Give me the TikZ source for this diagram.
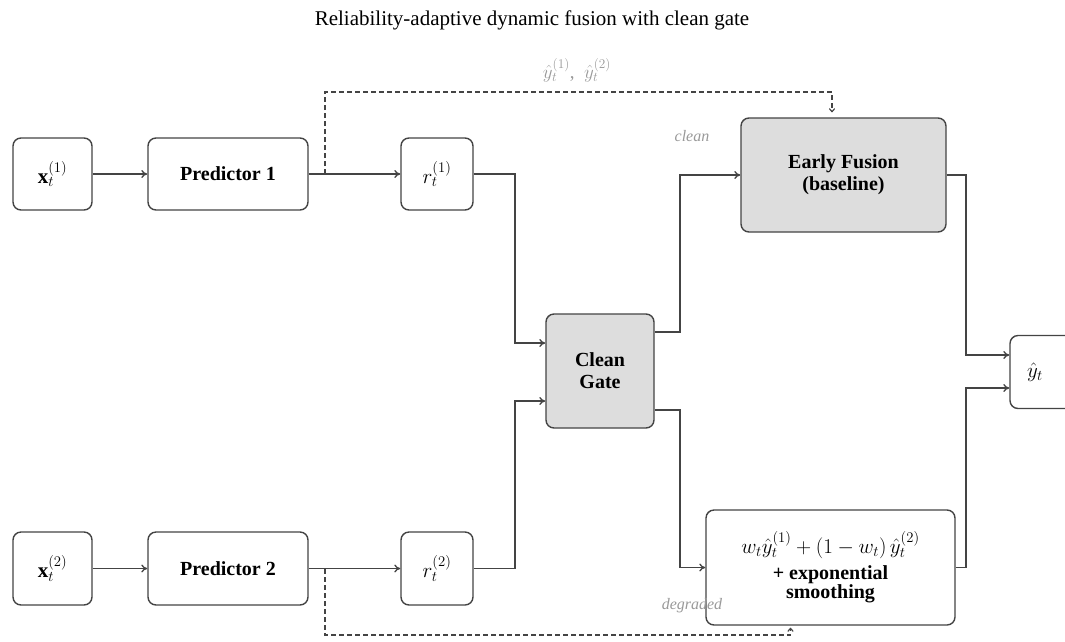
\RequirePackage{fix-cm}
\documentclass[tikz,border=0pt]{standalone}
\usepackage{fontspec}
\setmainfont{Liberation Serif}
\usetikzlibrary{arrows.meta}
\definecolor{edge}{HTML}{444444}
\definecolor{gatefill}{HTML}{DDDDDD}
\definecolor{lbl}{HTML}{999999}
\begin{document}
\begin{tikzpicture}[x=1pt,y=-1pt,
  box/.style={draw=edge, line width=1.4pt, rounded corners=8pt, fill=white, align=center, inner sep=2pt},
  gbox/.style={box, fill=gatefill},
  arr/.style={draw=edge, line width=1.3pt, -{To[length=6pt,width=8pt]}},
  dsh/.style={draw=edge, line width=1.2pt, dash pattern=on 5pt off 3pt, -{To[length=4pt,width=6pt]}},
  lab/.style={text=lbl, font=\fontsize{16}{18}\selectfont\itshape},
  mth/.style={font=\fontsize{21}{24}\selectfont},
  txt/.style={font=\fontsize{20}{23}\selectfont\bfseries}]
\useasboundingbox (0,0) rectangle (1065,641);
\clip (0,0) rectangle (1065,641);

\node[font=\fontsize{21}{24}\selectfont] (title) at (532,20) {Reliability-adaptive dynamic fusion with clean gate};

\node[box, mth, minimum width=79pt, minimum height=72pt] (x1) at (52.5,174) {$\mathbf{x}_t^{(1)}$};
\node[box, txt, minimum width=160pt, minimum height=72pt] (p1) at (228,174) {Predictor 1};
\node[box, mth, minimum width=72pt, minimum height=72pt] (r1) at (437,174) {$r_t^{(1)}$};

\node[box, mth, minimum width=79pt, minimum height=73pt] (x2) at (52.5,568.5) {$\mathbf{x}_t^{(2)}$};
\node[box, txt, minimum width=160pt, minimum height=73pt] (p2) at (228,568.5) {Predictor 2};
\node[box, mth, minimum width=72pt, minimum height=73pt] (r2) at (437,568.5) {$r_t^{(2)}$};

\node[gbox, txt, minimum width=108pt, minimum height=114pt] (gate) at (600,371) {Clean\\[-1pt]Gate};
\node[gbox, txt, minimum width=205pt, minimum height=114pt] (early) at (843.5,175) {Early Fusion\\[-1pt](baseline)};
\node[box, txt, minimum width=249pt, minimum height=115pt] (fus) at (830.5,567.5)
  {{\mdseries\fontsize{21}{24}\selectfont$w_t\hat{y}_t^{(1)}+(1-w_t)\,\hat{y}_t^{(2)}$}\\[3pt]+ exponential\\[-4pt]smoothing};
\node[box, mth, minimum width=70pt, minimum height=73pt] (yh) at (1045,372) {\hspace*{-20pt}$\hat{y}_t$};

\coordinate (s1) at (325,174);
\coordinate (s2) at (325,569);

\draw[arr] (x1.east) -- (p1.west);
\draw[arr] (p1.east) -- (r1.west);
\draw[arr] (x2.east) -- (p2.west);
\draw[arr] (p2.east) -- (r2.west);

\draw[dsh, shorten >=5pt] (s1) -- (325,92) -| ([xshift=-11.5pt]early.north);
\draw[dsh, shorten >=2pt] (s2) -- (325,635) -| ([xshift=-40pt]fus.south);

\draw[arr] (r1.east) -- (515,174) |- ([yshift=28pt]gate.west);
\draw[arr] (r2.east) -- (515,568.5) |- ([yshift=-30pt]gate.west);

\draw[arr] ([yshift=39pt]gate.east) -- (680,332) |- (early.west);
\draw[arr] ([yshift=-39pt]gate.east) -- (680,410) |- (fus.west);

\draw[arr] (early.east) -- (966,175) |- ([yshift=17pt]yh.west);
\draw[arr] (fus.east) -- (966,567.5) |- ([yshift=-16pt]yh.west);

\node[text=lbl, font=\fontsize{19}{22}\selectfont] (ylab) at (577,70) {$\hat{y}_t^{(1)}$,\ \ $\hat{y}_t^{(2)}$};
\node[lab] (clean) at (692,136) {clean};
\node[lab] (degr) at (692,606) {degraded};
\end{tikzpicture}
\end{document}
